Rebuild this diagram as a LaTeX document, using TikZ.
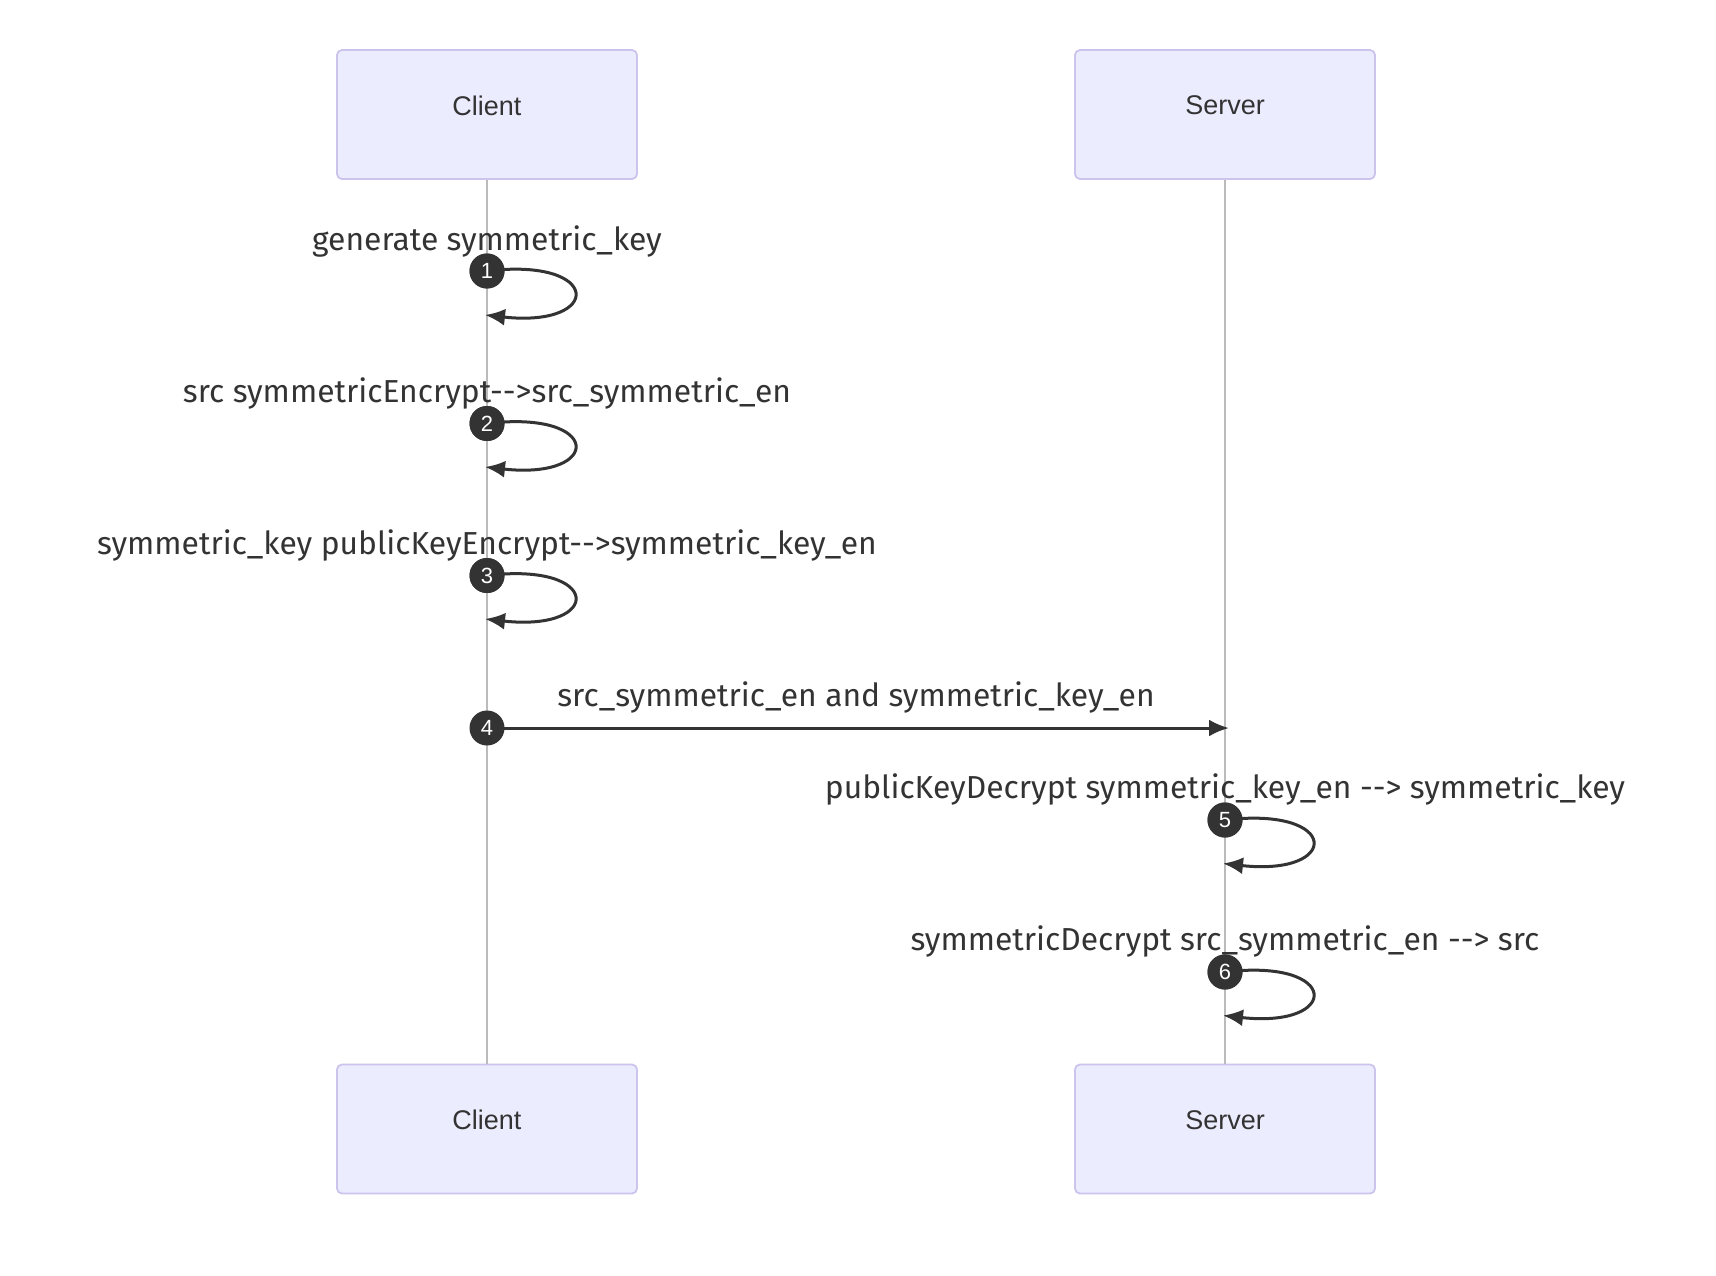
\documentclass[tikz,border=0pt]{standalone}
\usepackage{fontspec}
\setmainfont{Fira Sans}
\newfontfamily\actorfont{Liberation Sans}
\usetikzlibrary{arrows.meta}
\definecolor{actfill}{HTML}{ECECFF}
\definecolor{actdraw}{HTML}{CCC4EC}
\definecolor{lifec}{HTML}{BBBBBB}
\definecolor{ink}{HTML}{333333}
\newcommand{\arr}{-\kern0pt-\kern0pt>}
\begin{document}
\begin{tikzpicture}[x=1pt,y=-1pt,
  actor/.style={draw=actdraw,fill=actfill,line width=1.8pt,rounded corners=5pt,minimum width=300pt,minimum height=129pt,inner sep=0pt,text=ink},
  actlabel/.style={font=\actorfont\fontsize{27}{30}\selectfont,text=ink,inner sep=0pt},
  seqnum/.style={circle,fill=ink,text=white,minimum size=35pt,inner sep=0pt,font=\actorfont\fontsize{22}{24}\selectfont},
  msgtext/.style={font=\fontsize{31.8}{36}\selectfont,text=ink,inner sep=0pt},
  msgline/.style={draw=ink,line width=3pt,-{Latex[length=20pt,width=17pt]}},
  lifeline/.style={draw=lifec,line width=1.8pt}]
\useasboundingbox (0,0) rectangle (1716,1276);
% actors
\node[actor] (ct) at (487,114.5) {};
\node[actor] (st) at (1225,114.5) {};
\node[actor] (cb) at (487,1129) {};
\node[actor] (sb) at (1225,1129) {};
\node[actlabel] (ctl) at (487,105.5) {Client};
\node[actlabel] (stl) at (1225,105.5) {Server};
\node[actlabel] (cbl) at (487,1120) {Client};
\node[actlabel] (sbl) at (1225,1120) {Server};
% lifelines
\draw[lifeline] (ct.south) -- (cb.north);
\draw[lifeline] (st.south) -- (sb.north);
% message 1
\node[msgtext] (t1) at (487,241) {generate symmetric\_key};
\coordinate (e1) at (485,315);
\node[seqnum] (n1) at (487,271) {1};
\draw[msgline] (n1.center) .. controls (603,257) and (603,328) .. (e1);
\node[seqnum] at (487,271) {1};
% message 2
\node[msgtext] (t2) at (487,393) {src symmetricEncrypt\arr src\_symmetric\_en};
\coordinate (e2) at (485,467);
\node[seqnum] (n2) at (487,423.5) {2};
\draw[msgline] (n2.center) .. controls (603,409.5) and (603,480) .. (e2);
\node[seqnum] at (487,423.5) {2};
% message 3
\node[msgtext] (t3) at (487,545) {symmetric\_key publicKeyEncrypt\arr symmetric\_key\_en};
\coordinate (e3) at (485,619);
\node[seqnum] (n3) at (487,575.5) {3};
\draw[msgline] (n3.center) .. controls (603,561.5) and (603,632) .. (e3);
\node[seqnum] at (487,575.5) {3};
% message 4
\node[msgtext] (t4) at (856,697) {src\_symmetric\_en and symmetric\_key\_en};
\coordinate (c4) at (487,728);
\coordinate (e4) at (1229,728);
\draw[msgline] (c4) -- (e4);
\node[seqnum] (n4) at (c4) {4};
% message 5
\node[msgtext] (t5) at (1225,789) {publicKeyDecrypt symmetric\_key\_en \arr{} symmetric\_key};
\coordinate (e5) at (1223,863.5);
\node[seqnum] (n5) at (1225,820) {5};
\draw[msgline] (n5.center) .. controls (1341,806) and (1341,876.5) .. (e5);
\node[seqnum] at (1225,820) {5};
% message 6
\node[msgtext] (t6) at (1225,941) {symmetricDecrypt src\_symmetric\_en \arr{} src};
\coordinate (e6) at (1223,1015.5);
\node[seqnum] (n6) at (1225,972) {6};
\draw[msgline] (n6.center) .. controls (1341,958) and (1341,1028.5) .. (e6);
\node[seqnum] at (1225,972) {6};
\end{tikzpicture}
\end{document}
